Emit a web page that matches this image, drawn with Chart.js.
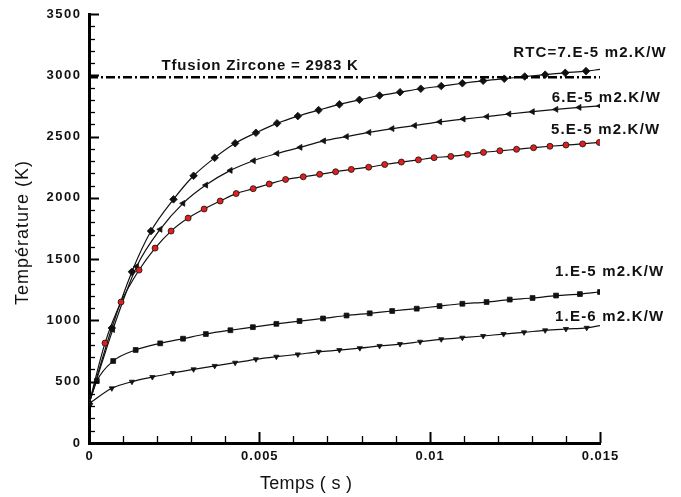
<!DOCTYPE html>
<html>
<head>
<meta charset="utf-8">
<script src="https://cdn.jsdelivr.net/npm/chart.js@4.4.1/dist/chart.umd.min.js"></script>
<style>
  html, body { margin: 0; padding: 0; background: #fff; }
</style>
</head>
<body>
<canvas id="chart" width="681" height="497"></canvas>
<script>
// time (s) / temperature (K)
const time7e5 = [0, 0.00067, 0.00126, 0.00182, 0.00248, 0.00307, 0.00369, 0.00429, 0.0049, 0.00552, 0.00613, 0.00674, 0.00735, 0.00794, 0.00853, 0.00913, 0.00974, 0.01034, 0.01096, 0.01157, 0.01219, 0.01279, 0.01339, 0.01398, 0.01459, 0.015];
const temp7e5 = [320, 938, 1397, 1729, 1988, 2180, 2327, 2445, 2531, 2608, 2667, 2716, 2763, 2800, 2835, 2862, 2890, 2912, 2935, 2955, 2972, 2990, 3005, 3020, 3034, 3048];

const time6e5 = [0, 0.0007, 0.0014, 0.00209, 0.00276, 0.00343, 0.00415, 0.00483, 0.00552, 0.0062, 0.00689, 0.00756, 0.00822, 0.0089, 0.00956, 0.0103, 0.01099, 0.01168, 0.01233, 0.01302, 0.01371, 0.01439, 0.015];
const temp6e5 = [320, 925, 1440, 1743, 1955, 2104, 2224, 2303, 2362, 2412, 2465, 2500, 2534, 2565, 2590, 2620, 2643, 2663, 2684, 2703, 2722, 2738, 2750];

const time5e5 = [0, 0.00047, 0.00094, 0.00147, 0.00194, 0.00241, 0.00291, 0.00338, 0.00385, 0.00432, 0.00482, 0.00529, 0.00577, 0.00629, 0.00677, 0.00724, 0.0077, 0.00821, 0.00868, 0.00917, 0.00967, 0.01013, 0.01062, 0.01111, 0.01158, 0.01206, 0.01255, 0.01305, 0.01353, 0.014, 0.01449, 0.01498];
const temp5e5 = [320, 815, 1150, 1411, 1590, 1729, 1835, 1909, 1974, 2035, 2075, 2113, 2150, 2172, 2192, 2213, 2232, 2250, 2272, 2292, 2310, 2328, 2338, 2355, 2371, 2384, 2396, 2409, 2421, 2431, 2440, 2452];

const time1e5 = [0, 0.00023, 0.00071, 0.00137, 0.00209, 0.00276, 0.00343, 0.00415, 0.00481, 0.0055, 0.00618, 0.00687, 0.00756, 0.00824, 0.0089, 0.00962, 0.01029, 0.01096, 0.01167, 0.01235, 0.01302, 0.01371, 0.01441, 0.015];
const temp1e5 = [320, 506, 669, 759, 813, 851, 889, 920, 945, 972, 995, 1016, 1040, 1058, 1077, 1096, 1117, 1136, 1150, 1170, 1183, 1203, 1215, 1232];

const time1e6 = [0, 0.00067, 0.00126, 0.00186, 0.00246, 0.00307, 0.00369, 0.00429, 0.0049, 0.0055, 0.00613, 0.00674, 0.00735, 0.00795, 0.00853, 0.00913, 0.00972, 0.01034, 0.01096, 0.01157, 0.01217, 0.01277, 0.01339, 0.014, 0.01461, 0.015];
const temp1e6 = [320, 446, 500, 538, 571, 601, 629, 655, 683, 704, 723, 744, 758, 774, 792, 807, 826, 846, 859, 873, 889, 903, 919, 930, 940, 958];

const tFusion = 2983;

const yTicks = [0, 500, 1000, 1500, 2000, 2500, 3000, 3500];
const xTicks = [0, 0.005, 0.01, 0.015];
const xTickLabels = ['0', '0.005', '0.01', '0.015'];

function toPoints(ts, vs) {
  return ts.map((t, i) => ({ x: t, y: vs[i] }));
}

function curve(ts, vs, shape, radius, rotation, fill, noEndMarker) {
  const last = ts.length - 1;
  return {
    data: toPoints(ts, vs),
    borderColor: '#111',
    borderWidth: 1.2,
    cubicInterpolationMode: 'monotone',
    pointStyle: shape,
    pointRotation: rotation,
    pointRadius: ctx => (noEndMarker && ctx.dataIndex === last) ? 0 : radius,
    pointBackgroundColor: fill,
    pointBorderColor: '#111',
    pointBorderWidth: 0.8
  };
}

// text helper, the original uses widely spaced bold lettering
function spaced(ctx, str, x, y, font, spacing, align, baseline) {
  ctx.save();
  ctx.font = font;
  ctx.letterSpacing = spacing + 'px';
  ctx.textBaseline = baseline || 'alphabetic';
  ctx.textAlign = 'left';
  const w = ctx.measureText(str).width - spacing;
  let sx = x;
  if (align === 'center') sx = x - w / 2;
  else if (align === 'right') sx = x - w;
  ctx.fillText(str, sx, y);
  ctx.restore();
}

const notes = [
  { text: 'RTC=7.E-5 m2.K/W', x: 0.01245, y: 3150, gap: 1.2 },
  { text: '6.E-5 m2.K/W', x: 0.01358, y: 2786, gap: 1.2 },
  { text: '5.E-5 m2.K/W', x: 0.01356, y: 2521, gap: 1.2 },
  { text: '1.E-5 m2.K/W', x: 0.01368, y: 1365, gap: 1.2 },
  { text: '1.E-6 m2.K/W', x: 0.01368, y: 998, gap: 1.2 },
  { text: 'Tfusion Zircone = 2983 K', x: 0.00213, y: 3043, gap: 0.8 }
];

const decor = {
  id: 'decor',
  beforeDraw(chart) {
    const ctx = chart.ctx;
    ctx.save();
    ctx.fillStyle = '#fff';
    ctx.fillRect(0, 0, chart.width, chart.height);
    ctx.restore();
  },
  afterDraw(chart) {
    const { ctx, scales: { x, y } } = chart;
    const left = x.getPixelForValue(0);
    const bottom = y.getPixelForValue(0);
    ctx.save();
    ctx.strokeStyle = '#000';
    // inward ticks on y
    for (let v = 0; v <= 3500; v += 100) {
      const py = Math.round(y.getPixelForValue(v)) + 0.5;
      const major = v % 500 === 0;
      ctx.lineWidth = major ? 2 : 1.3;
      ctx.beginPath();
      ctx.moveTo(left, py);
      ctx.lineTo(left + (major ? 10 : 6), py);
      ctx.stroke();
    }
    // inward ticks on x
    for (let k = 0; k <= 15; k++) {
      const px = Math.round(x.getPixelForValue(k * 0.001)) + 0.5;
      const major = k % 5 === 0;
      ctx.lineWidth = major ? 2 : 1.3;
      ctx.beginPath();
      ctx.moveTo(px, bottom);
      ctx.lineTo(px, bottom - (major ? 11 : 7));
      ctx.stroke();
    }
    ctx.restore();

    ctx.fillStyle = '#111';
    yTicks.forEach(v => {
      spaced(ctx, String(v), left - 9, y.getPixelForValue(v), 'bold 13px "Liberation Sans"', 1.5, 'right', 'middle');
    });
    xTicks.forEach((v, i) => {
      spaced(ctx, xTickLabels[i], x.getPixelForValue(v), bottom + 7, 'bold 13px "Liberation Sans"', 1, 'center', 'top');
    });

    notes.forEach(n => {
      spaced(ctx, n.text, x.getPixelForValue(n.x), y.getPixelForValue(n.y), 'bold 15px "Liberation Sans"', n.gap, 'left');
    });

    // axis titles
    spaced(ctx, 'Temps ( s )', 306, 484, '18px "Liberation Sans"', 0.3, 'center', 'middle');
    ctx.save();
    ctx.translate(23, 233);
    ctx.rotate(-Math.PI / 2);
    spaced(ctx, 'Température (K)', 0, 0, '18px "Liberation Sans"', 1, 'center', 'middle');
    ctx.restore();
  }
};

new Chart(document.getElementById('chart'), {
  type: 'line',
  data: {
    datasets: [
      {
        data: [{ x: 0, y: tFusion }, { x: 0.015, y: tFusion }],
        borderColor: '#000',
        borderWidth: 2.5,
        borderDash: [9, 3, 2, 3],
        pointRadius: 0
      },
      curve(time1e6, temp1e6, 'triangle', 3, 180, '#111', true),
      curve(time1e5, temp1e5, 'rect', 3.4, 0, '#111', false),
      curve(time5e5, temp5e5, 'circle', 3, 0, '#e02020', false),
      curve(time6e5, temp6e5, 'triangle', 3.4, 270, '#111', false),
      curve(time7e5, temp7e5, 'rectRot', 3.8, 0, '#111', true)
    ]
  },
  options: {
    responsive: false,
    animation: false,
    layout: { padding: { top: 14, right: 81, left: 0, bottom: 0 } },
    plugins: {
      legend: { display: false },
      tooltip: { enabled: false }
    },
    scales: {
      x: {
        type: 'linear',
        min: 0,
        max: 0.015,
        grid: { display: false },
        border: { display: true, width: 3, color: '#000' },
        ticks: { display: false, stepSize: 0.005 },
        afterFit: s => { s.height = 54; }
      },
      y: {
        min: 0,
        max: 3500,
        grid: { display: false },
        border: { display: true, width: 3, color: '#000' },
        ticks: { display: false, stepSize: 500 },
        afterFit: s => { s.width = 89; }
      }
    }
  },
  plugins: [decor]
});
</script>
</body>
</html>
